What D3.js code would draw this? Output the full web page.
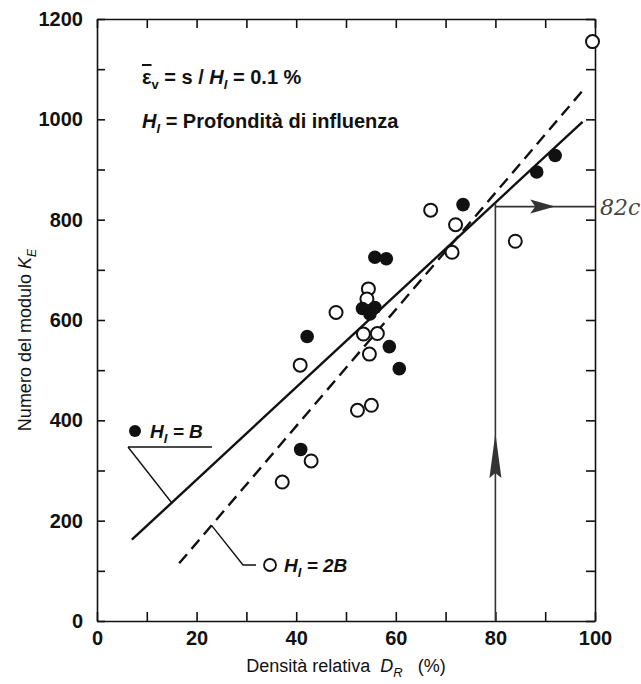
<!DOCTYPE html>
<html lang="it">
<head>
<meta charset="UTF-8">
<title>Numero del modulo K_E - Densità relativa</title>
<script src="https://d3js.org/d3.v7.min.js"></script>
<style>
  body { margin: 0; background: #fff; }
  svg text { font-family: "Liberation Sans", Arial, sans-serif; fill: #111; }
  .axis path, .axis line { stroke: #111; stroke-width: 1.6px; }
  .axis text { font-size: 20px; font-weight: bold; }
</style>
</head>
<body>
<div id="chart"></div>
<script>
// H_I = B  (punti pieni)
const hbDensita = [92, 88.3, 73.5, 55.8, 58.1, 53.3, 55.8, 54.8, 42.2, 58.7, 60.7, 40.9];
const hbModulo  = [928, 895, 830, 725, 722, 623, 625, 612, 567, 547, 503, 342];

// H_I = 2B  (punti vuoti)
const h2bDensita = [99.5, 67, 72, 84, 71.3, 54.5, 54.2, 48, 53.5, 56.3, 54.7, 40.8, 52.3, 55.1, 43, 37.2];
const h2bModulo  = [1155, 819, 790, 757, 735, 662, 642, 615, 572, 573, 532, 510, 420, 430, 319, 277];

// rette di regressione
const rettaBx = [7, 97.5];
const rettaBy = [162, 995];
const retta2Bx = [16.5, 97.5];
const retta2By = [115, 1057];

// lettura a D_R = 80 %
const drLettura = 80;
const keLettura = 826;
const keLetturaTesto = "82c";

const xTickValues = d3.range(0, 101, 10);
const xLabelValues = [0, 20, 40, 60, 80, 100];
const yTickValues = d3.range(0, 1201, 100);
const yLabelValues = [0, 200, 400, 600, 800, 1000, 1200];

const width = 641, height = 684;
const svg = d3.select("#chart").append("svg")
  .attr("width", width)
  .attr("height", height);

const x = d3.scaleLinear().domain([0, 100]).range([97, 595]);
const y = d3.scaleLinear().domain([0, 1200]).range([621, 19]);

const suRetta = (xs, ys, d) => ys[0] + (d - xs[0]) * (ys[1] - ys[0]) / (xs[1] - xs[0]);

// assi (tacche verso l'interno)
svg.append("g").attr("class", "axis")
  .attr("transform", `translate(0,${y(0)})`)
  .call(d3.axisBottom(x).tickValues(xTickValues).tickSizeInner(-9).tickSizeOuter(0).tickPadding(10)
    .tickFormat(d => xLabelValues.includes(d) ? d : ""));
svg.append("g").attr("class", "axis")
  .attr("transform", `translate(0,${y(1200)})`)
  .call(d3.axisTop(x).tickValues(xTickValues).tickSizeInner(-9).tickSizeOuter(0).tickFormat(""));
svg.append("g").attr("class", "axis")
  .attr("transform", `translate(${x(0)},0)`)
  .call(d3.axisLeft(y).tickValues(yTickValues).tickSizeInner(-8).tickSizeOuter(0).tickPadding(14)
    .tickFormat(d => yLabelValues.includes(d) ? d : ""));
svg.append("g").attr("class", "axis")
  .attr("transform", `translate(${x(100)},0)`)
  .call(d3.axisRight(y).tickValues(yTickValues).tickSizeInner(-9).tickSizeOuter(0).tickFormat(""));

// titoli assi
const xt = svg.append("text")
  .attr("x", (x(0) + x(100)) / 2).attr("y", 672)
  .attr("text-anchor", "middle").style("font-size", "18px").style("white-space", "pre");
xt.append("tspan").text("Densità relativa  ");
xt.append("tspan").style("font-style", "italic").text("D");
xt.append("tspan").style("font-style", "italic").style("font-size", "13px").attr("dy", 5).text("R");
xt.append("tspan").attr("dy", -5).text("   (%)");

const yt = svg.append("text")
  .attr("transform", `translate(31,${y(560)}) rotate(-90)`)
  .attr("text-anchor", "middle").style("font-size", "18px");
yt.append("tspan").text("Numero del modulo ");
yt.append("tspan").style("font-style", "italic").text("K");
yt.append("tspan").style("font-style", "italic").style("font-size", "12px").attr("dy", 5).text("E");

// annotazioni in alto
const a1 = svg.append("text").attr("x", 142).attr("y", 84).style("font-size", "20px").style("font-weight", "bold");
a1.append("tspan").style("text-decoration", "overline").text("ε");
a1.append("tspan").style("font-size", "13px").attr("dy", 5).text("v");
a1.append("tspan").attr("dy", -5).text(" = s / ");
a1.append("tspan").style("font-style", "italic").text("H");
a1.append("tspan").style("font-style", "italic").style("font-size", "13px").attr("dy", 5).text("I");
a1.append("tspan").attr("dy", -5).text(" = 0.1 %");

const a2 = svg.append("text").attr("x", 142).attr("y", 128).style("font-size", "20px").style("font-weight", "bold");
a2.append("tspan").style("font-style", "italic").text("H");
a2.append("tspan").style("font-style", "italic").style("font-size", "13px").attr("dy", 5).text("I");
a2.append("tspan").attr("dy", -5).text(" = Profondità di influenza");

// rette
const line = d3.line().x(d => x(d[0])).y(d => y(d[1]));
svg.append("path")
  .datum(d3.zip(rettaBx, rettaBy))
  .attr("d", line).attr("fill", "none")
  .attr("stroke", "#111").attr("stroke-width", 2.4);
svg.append("path")
  .datum(d3.zip(retta2Bx, retta2By))
  .attr("d", line).attr("fill", "none")
  .attr("stroke", "#111").attr("stroke-width", 2.4)
  .attr("stroke-dasharray", "12,7");

// freccia di lettura
const ink = "#333";
const kLinea = suRetta(rettaBx, rettaBy, drLettura);
svg.append("line")
  .attr("x1", x(drLettura)).attr("x2", x(drLettura))
  .attr("y1", y(0)).attr("y2", y(kLinea))
  .attr("stroke", ink).attr("stroke-width", 1.6);
svg.append("line")
  .attr("x1", x(drLettura)).attr("x2", x(100))
  .attr("y1", y(keLettura)).attr("y2", y(keLettura))
  .attr("stroke", ink).attr("stroke-width", 1.6);
svg.append("path")
  .attr("d", `M${x(drLettura)},${y(375)} L${x(drLettura) - 6},${y(285)} L${x(drLettura)},${y(295)} L${x(drLettura) + 6},${y(285)} Z`)
  .attr("fill", ink);
svg.append("path")
  .attr("d", `M${x(92)},${y(keLettura)} L${x(87)},${y(keLettura) - 7} L${x(88)},${y(keLettura)} L${x(87)},${y(keLettura) + 7} Z`)
  .attr("fill", ink);
svg.append("text")
  .attr("x", 600).attr("y", y(keLettura) + 8)
  .style("font-family", "'DejaVu Serif', serif").style("font-style", "italic")
  .style("font-size", "22px").style("fill", "#444")
  .text(keLetturaTesto);

// punti
svg.append("g").selectAll("circle")
  .data(d3.zip(h2bDensita, h2bModulo))
  .join("circle")
  .attr("cx", d => x(d[0])).attr("cy", d => y(d[1]))
  .attr("r", 6.5)
  .attr("fill", "#fff").attr("stroke", "#111").attr("stroke-width", 2);
svg.append("g").selectAll("circle")
  .data(d3.zip(hbDensita, hbModulo))
  .join("circle")
  .attr("cx", d => x(d[0])).attr("cy", d => y(d[1]))
  .attr("r", 6.8)
  .attr("fill", "#111");

// legenda H_I = B
svg.append("circle").attr("cx", 135).attr("cy", 431).attr("r", 6).attr("fill", "#111");
const l1 = svg.append("text").attr("x", 150).attr("y", 438)
  .style("font-size", "19px").style("font-style", "italic").style("font-weight", "bold");
l1.append("tspan").text("H");
l1.append("tspan").style("font-size", "13px").attr("dy", 5).text("I");
l1.append("tspan").attr("dy", -5).text(" = B");
svg.append("path")
  .attr("d", `M128,447 L212,447 M128,447 L${x(15)},${y(suRetta(rettaBx, rettaBy, 15))}`)
  .attr("fill", "none").attr("stroke", "#111").attr("stroke-width", 1.4);

// legenda H_I = 2B
svg.append("path")
  .attr("d", `M${x(23)},${y(suRetta(retta2Bx, retta2By, 23))} L243,565 L256,565`)
  .attr("fill", "none").attr("stroke", "#111").attr("stroke-width", 1.4);
svg.append("circle").attr("cx", 270).attr("cy", 565).attr("r", 6).attr("fill", "#fff").attr("stroke", "#111").attr("stroke-width", 1.8);
const l2 = svg.append("text").attr("x", 284).attr("y", 572)
  .style("font-size", "19px").style("font-style", "italic").style("font-weight", "bold");
l2.append("tspan").text("H");
l2.append("tspan").style("font-size", "13px").attr("dy", 5).text("I");
l2.append("tspan").attr("dy", -5).text(" = 2");
l2.append("tspan").text("B");
</script>
</body>
</html>
